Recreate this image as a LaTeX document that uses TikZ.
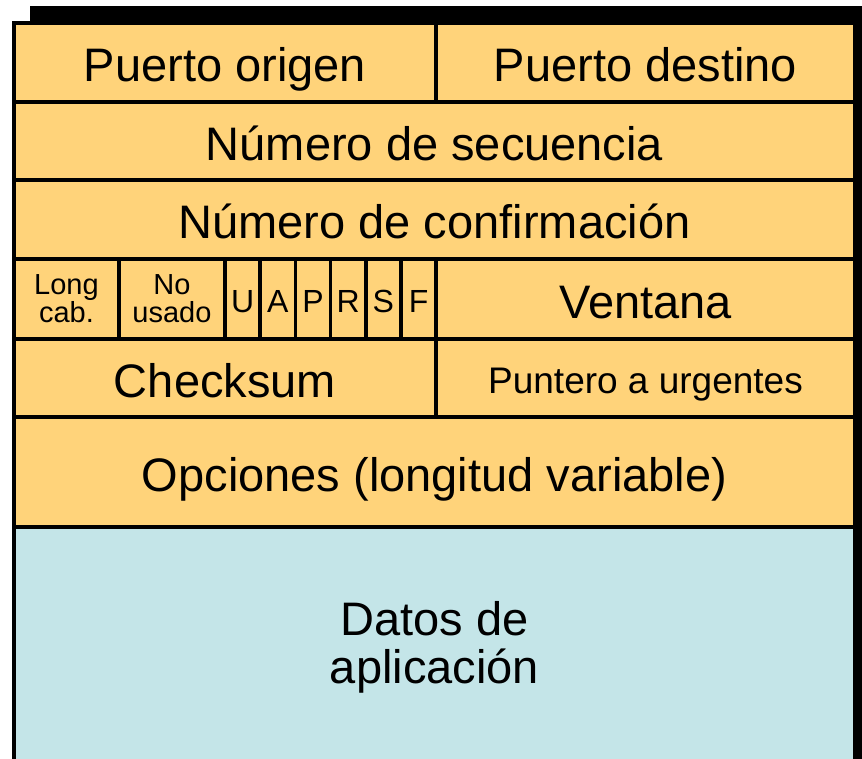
\documentclass[tikz,border=0pt]{standalone}
\usepackage{fontspec}
\setmainfont{Liberation Sans}
\definecolor{cabecera}{RGB}{255,211,122}
\definecolor{carga}{RGB}{196,229,232}

\begin{document}
\begin{tikzpicture}[x=1pt,y=-1pt,
    campo/.style={draw,line width=3.5pt,fill=cabecera,anchor=north west,
      inner sep=0pt,outer sep=0pt,align=center},
    grande/.style={font=\fontsize{47}{48}\selectfont,text height=48pt,text depth=9pt},
    medio/.style={font=\fontsize{37}{38}\selectfont,text height=38pt,text depth=7pt},
    bandera/.style={font=\fontsize{32}{33}\selectfont,text height=33pt,text depth=5.5pt},
    chico/.style={font=\fontsize{29}{28}\selectfont},
    bloque/.style={font=\fontsize{47}{48}\selectfont}]
  \useasboundingbox (0,0) rectangle (862,759);
  \clip (0,0) rectangle (862,759);

  % sombra
  \fill[black] (30,6) rectangle (880,790);

  % puertos
  \node[campo,grande,minimum width=422pt,minimum height=79pt] (po) at (14,23) {Puerto origen};
  \node[campo,grande,minimum width=419pt,minimum height=79pt] (pd) at (436,23) {Puerto destino};

  % secuencia y confirmacion
  \node[campo,grande,minimum width=841pt,minimum height=78pt] (seq) at (14,102) {Número de secuencia};
  \node[campo,grande,minimum width=841pt,minimum height=79pt] (ack) at (14,180) {Número de confirmación};

  % long. cabecera, banderas, ventana
  \node[campo,chico,minimum width=105pt,minimum height=80pt] (lc) at (14,259) {Long\\cab.};
  \node[campo,chico,minimum width=106pt,minimum height=80pt] (nu) at (119,259) {No\\usado};
  \foreach \f [count=\i from 0] in {U,A,P,R,S,F}
    \node[campo,bandera,minimum width=35.2pt,minimum height=80pt] (flag\f) at ({225+35.2*\i},259) {\f};
  \node[campo,grande,minimum width=419pt,minimum height=80pt] (win) at (436,259) {Ventana};

  % checksum y urgentes
  \node[campo,grande,minimum width=422pt,minimum height=78pt] (cks) at (14,339) {Checksum};
  \node[campo,medio,minimum width=419pt,minimum height=78pt] (urg) at (436,339) {Puntero a urgentes};

  % opciones
  \node[campo,grande,minimum width=841pt,minimum height=110pt] (opt) at (14,417) {Opciones (longitud variable)};

  % datos
  \node[campo,bloque,fill=carga,minimum width=841pt,minimum height=240pt] (dat) at (14,527) {Datos de\\aplicación};
\end{tikzpicture}
\end{document}
